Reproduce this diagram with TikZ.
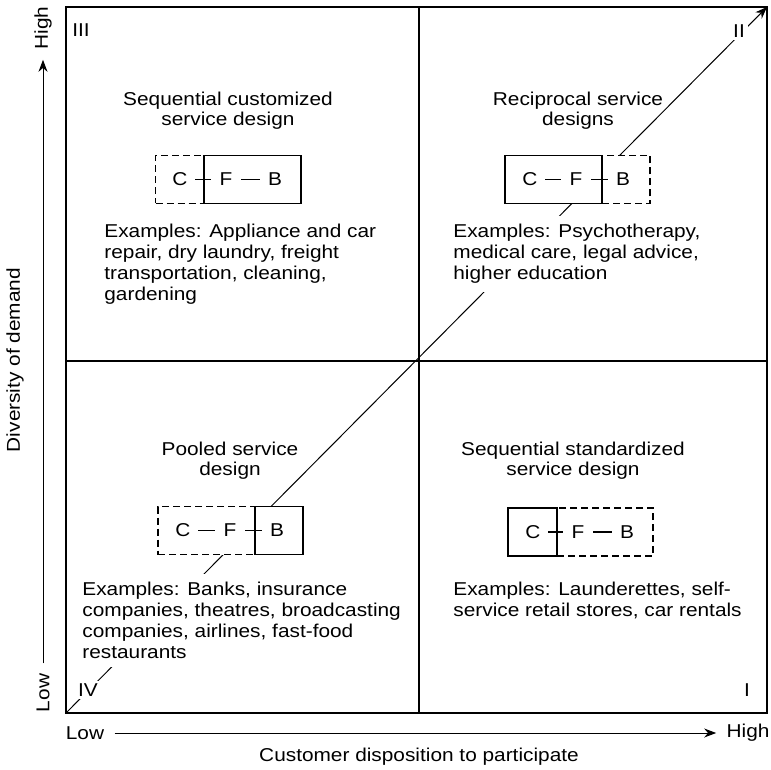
\documentclass[tikz,border=0pt]{standalone}
\usepackage{fontspec}
\setmainfont{Liberation Sans}[FakeStretch=1.12]
\usetikzlibrary{arrows.meta}

\tikzset{
	grid/.style={line width=0.8pt},
	diag/.style={line width=0.5pt, -{Stealth[length=6pt, width=4.5pt]}},
	axis/.style={line width=0.5pt, -{Stealth[length=6pt, width=4.5pt]}},
	solidpart/.style={rectangle, draw, line width=0.6pt, fill=white, minimum height=24pt, inner sep=0pt},
	dashpart/.style={solidpart, dash pattern=on 3.5pt off 2pt},
	letter/.style={inner sep=0pt, minimum width=15pt, minimum height=12pt},
	link/.style={line width=0.6pt},
	title/.style={align=center, font=\fontsize{9.3}{10}\selectfont},
	examples/.style={align=left, anchor=north west, fill=white, inner sep=4pt},
	numeral/.style={fill=white, inner sep=1.5pt},
	axislabel/.style={inner sep=5pt},
}

\begin{document}
\begin{tikzpicture}[x=0.5pt, y=-0.5pt, every node/.style={font=\fontsize{9.3}{10.5}\selectfont}]
	\useasboundingbox (0,0) rectangle (771,770);

	\coordinate (origin) at (66,713);
	\coordinate (peak) at (767,7);
	\draw[diag] (origin) -- (peak);

	% quadrant III
	\node[title] (title3) at (228,111) {Sequential customized\\service design};
	\node[dashpart, minimum width=24pt] (out3) at (179.5,179.5) {};
	\node[solidpart, minimum width=48.5pt] (in3) at (252.5,179.5) {};
	\node[letter] (c3) at (180,179.5) {C};
	\node[letter] (f3) at (226,179.5) {F};
	\node[letter] (b3) at (275,179.5) {B};
	\draw[link] (c3) -- (f3);
	\draw[link] (f3) -- (b3);
	\node[examples] (ex3) at (96,216)
		{Examples: Appliance and car\\repair, dry laundry, freight\\transportation, cleaning,\\gardening};

	% quadrant II
	\node[title] (title2) at (578,111) {Reciprocal service\\designs};
	\node[dashpart, minimum width=24pt] (out2) at (626,179.5) {};
	\node[solidpart, minimum width=48.5pt] (in2) at (553.5,179.5) {};
	\node[letter] (c2) at (530,179.5) {C};
	\node[letter] (f2) at (576,179.5) {F};
	\node[letter] (b2) at (623,179.5) {B};
	\draw[link] (c2) -- (f2);
	\draw[link] (f2) -- (b2);
	\node[examples] (ex2) at (445,216)
		{Examples: Psychotherapy,\\medical care, legal advice,\\higher education};

	% quadrant IV
	\node[title] (title4) at (230,461) {Pooled service\\design};
	\node[dashpart, minimum width=48.5pt] (out4) at (206.5,530.5) {};
	\node[solidpart, minimum width=24pt] (in4) at (279,530.5) {};
	\node[letter] (c4) at (183,530.5) {C};
	\node[letter] (f4) at (230,530.5) {F};
	\node[letter] (b4) at (277,530.5) {B};
	\draw[link] (c4) -- (f4);
	\draw[link] (f4) -- (b4);
	\node[examples] (ex4) at (74,574)
		{Examples: Banks, insurance\\companies, theatres, broadcasting\\companies, airlines, fast-food\\restaurants};

	% quadrant I
	\node[title] (title1) at (573,461) {Sequential standardized\\service design};
	\node[dashpart, minimum width=48pt] (out1) at (605,532) {};
	\node[solidpart, minimum width=24.5pt] (in1) at (532.5,532) {};
	\node[letter] (c1) at (533,532) {C};
	\node[letter] (f1) at (578,532) {F};
	\node[letter] (b1) at (627,532) {B};
	\draw[link] (c1) -- (f1);
	\draw[link] (f1) -- (b1);
	\node[examples] (ex1) at (445,574)
		{Examples: Launderettes, self-\\service retail stores, car rentals};

	% numerals
	\node (n3) at (81,30) {III};
	\node[numeral] (n2) at (739,31) {II};
	\node[numeral] (n4) at (88,690) {IV};
	\node (n1) at (747,690) {I};

	% grid
	\draw[grid] (66,7) rectangle (767,713);
	\draw[grid] (419,7) -- (419,713);
	\draw[grid] (66,361) -- (767,361);

	% axes
	\node[axislabel, rotate=90] (ylow) at (43,693) {Low};
	\node[axislabel, rotate=90] (yhigh) at (43,28) {High};
	\draw[axis] (ylow) -- (yhigh);
	\node[rotate=90] (ytitle) at (15,360) {Diversity of demand};
	\node[axislabel] (xlow) at (85,733) {Low};
	\node[axislabel] (xhigh) at (748,733) {High};
	\draw[axis] (xlow) -- (xhigh);
	\node (xtitle) at (419,757) {Customer disposition to participate};
\end{tikzpicture}
\end{document}
